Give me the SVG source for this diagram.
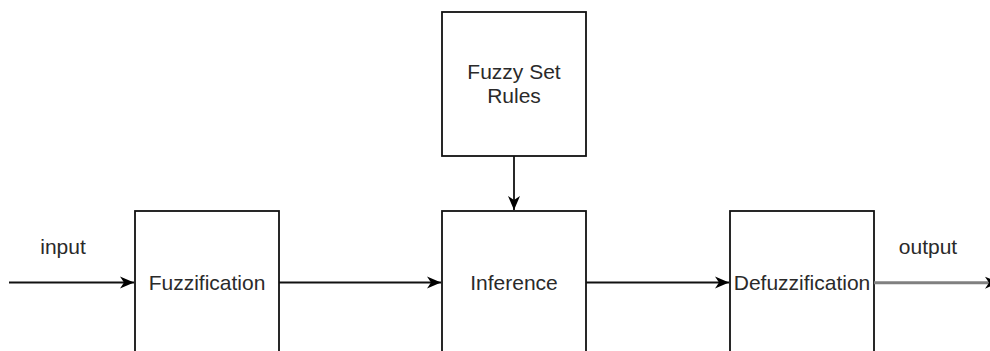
<svg xmlns="http://www.w3.org/2000/svg" width="990" height="351" viewBox="0 0 990 351">
<style>
.box{fill:#fff;stroke:#111;stroke-width:1.8}
.t{font-family:"Liberation Sans",Arial,sans-serif;font-size:21px;fill:#2a2a2a;text-anchor:middle}
.c{fill:none;stroke:#111;stroke-width:1.8}
</style>
<defs>
<marker id="ah" markerUnits="userSpaceOnUse" markerWidth="16" markerHeight="14" refX="14" refY="7" orient="auto">
<path d="M0,1 L14,7 L0,13 L4,7 Z" fill="#000"/>
</marker>
</defs>
<g id="fuzzyrules">
<rect class="box" x="442" y="12" width="144" height="144"/>
<text class="t" x="514" y="79">Fuzzy Set</text>
<text class="t" x="514" y="103">Rules</text>
</g>
<g id="fuzzification">
<rect class="box" x="135" y="211" width="144" height="150"/>
<text class="t" x="207" y="290">Fuzzification</text>
</g>
<g id="inference">
<rect class="box" x="442" y="211" width="144" height="150"/>
<text class="t" x="514" y="290">Inference</text>
</g>
<g id="defuzzification">
<rect class="box" x="730" y="211" width="144" height="150"/>
<text class="t" x="802" y="290">Defuzzification</text>
</g>
<g id="labels">
<text class="t" x="63" y="254">input</text>
<text class="t" x="928" y="254">output</text>
</g>
<g id="connectors">
<line class="c" x1="9" y1="282.5" x2="134" y2="282.5" marker-end="url(#ah)"/>
<line class="c" x1="279" y1="282.5" x2="441" y2="282.5" marker-end="url(#ah)"/>
<line class="c" x1="586" y1="282.5" x2="729" y2="282.5" marker-end="url(#ah)"/>
<line class="c" x1="514" y1="156" x2="514" y2="210" marker-end="url(#ah)"/>
<line x1="874" y1="282.7" x2="999" y2="282.7" stroke="#808080" stroke-width="3" marker-end="url(#ah)"/>
</g>
</svg>
